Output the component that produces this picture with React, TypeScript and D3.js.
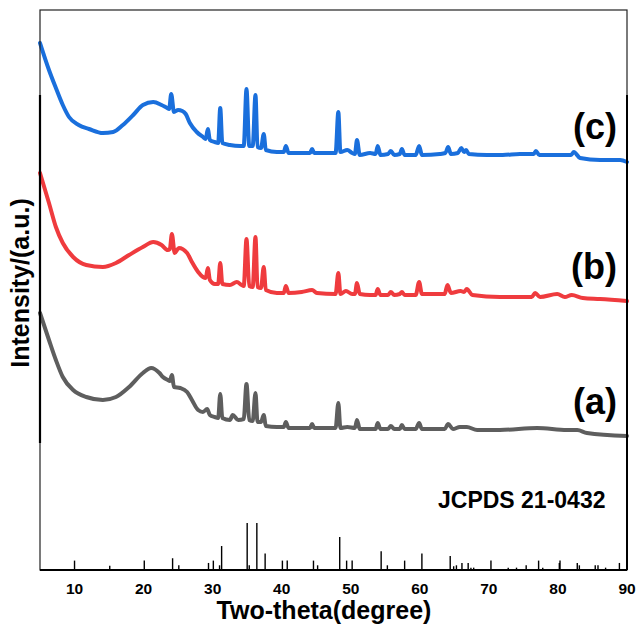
import React from "react";
import * as d3 from "d3";

// 2θ (degree) and intensity (a.u.)
const curveC: [number, number][] = [
  [5.0, 527], [6.3, 500], [7.3, 482], [8.3, 465], [9.2, 453], [10.6, 445], [12.1, 441], [14.1, 437],
  [15.6, 438], [17.0, 445], [18.5, 455], [19.9, 465], [21.4, 468], [22.6, 465], [23.4, 462],
  [23.7, 461], [24.0, 476], [24.4, 458], [25.0, 460], [25.6, 459], [26.1, 456], [26.7, 447], [27.7, 438],
  [28.6, 433], [29.0, 431], [29.3, 441], [29.6, 430], [30.3, 428], [30.8, 427], [31.1, 462], [31.4, 427],
  [32.5, 425], [34.0, 424], [34.5, 424], [34.9, 481], [35.3, 424], [35.8, 424], [36.2, 475], [36.5, 423],
  [37.0, 422], [37.4, 436], [37.7, 420], [39.3, 418], [40.3, 418], [40.6, 424], [41.0, 417], [43.1, 417],
  [44.1, 417], [44.4, 421], [44.7, 417], [47.3, 417], [47.8, 417], [48.2, 458], [48.5, 418], [49.5, 420],
  [50.2, 417], [50.6, 416], [50.9, 430], [51.3, 415], [52.8, 417], [53.6, 416], [53.9, 424], [54.3, 415],
  [55.4, 416], [55.8, 419], [56.3, 415], [57.1, 416], [57.4, 421], [57.8, 415], [59.4, 415], [59.9, 424],
  [60.3, 415], [62.9, 416], [63.7, 417], [64.1, 423], [64.5, 416], [65.5, 417], [66.0, 422], [66.4, 418],
  [66.7, 420], [67.1, 416], [69.7, 415], [72.0, 415], [74.5, 416], [76.5, 416], [76.8, 419], [77.3, 415],
  [79.9, 415], [81.9, 415], [82.3, 418], [83.2, 412], [86.1, 410], [89.0, 410], [90.0, 408],
];

const curveB: [number, number][] = [
  [5.0, 397], [6.3, 367], [7.3, 343], [8.3, 327], [9.8, 313], [11.7, 305], [14.1, 303], [16.0, 307],
  [17.9, 315], [19.9, 323], [21.4, 328], [22.6, 325],
  [23.5, 320], [23.8, 321], [24.1, 336], [24.5, 317], [25.1, 322], [26.3, 317], [27.0, 308], [27.9, 298],
  [28.6, 293], [29.0, 292], [29.3, 302], [29.6, 290], [30.3, 286], [30.8, 286], [31.1, 307], [31.4, 286],
  [32.5, 285], [33.5, 288], [34.2, 285], [34.5, 284], [34.9, 331], [35.3, 284], [35.8, 283], [36.2, 333],
  [36.5, 283], [37.0, 282], [37.4, 303], [37.7, 280], [39.3, 277], [40.3, 277], [40.6, 284], [41.0, 277],
  [42.9, 278], [44.4, 280], [45.1, 277], [47.8, 276], [48.2, 297], [48.5, 276], [49.3, 279], [50.2, 276],
  [50.6, 276], [50.9, 287], [51.3, 276], [52.8, 275], [53.6, 275], [53.9, 281], [54.3, 275], [55.4, 275],
  [55.8, 278], [56.3, 275], [57.1, 276], [57.4, 278], [57.8, 275], [59.4, 275], [59.9, 288], [60.3, 276],
  [63.6, 276], [64.0, 285], [64.5, 277], [65.9, 279], [66.4, 278], [66.8, 281], [67.6, 275], [71.6, 273],
  [76.2, 273], [76.7, 277], [77.4, 273], [79.9, 276], [81.0, 273], [82.0, 275], [83.6, 272], [86.1, 271],
  [90.0, 269],
];

const curveA: [number, number][] = [
  [5.0, 257], [6.3, 230], [7.3, 210], [8.3, 193], [9.8, 180], [11.7, 173], [14.1, 170], [16.0, 173],
  [17.9, 183], [19.9, 197], [21.1, 202], [22.3, 197], [22.8, 193], [23.5, 190], [23.8, 189],
  [24.1, 195], [24.4, 183], [25.3, 182], [26.3, 178], [27.0, 170], [27.9, 160], [28.6, 158], [29.2, 161],
  [29.6, 155], [30.3, 153], [30.8, 152], [31.1, 176], [31.4, 152], [32.5, 150], [32.9, 155], [33.7, 150],
  [34.5, 151], [34.9, 186], [35.3, 150], [35.8, 149], [36.2, 177], [36.5, 148], [37.0, 148], [37.4, 155],
  [37.7, 144], [39.3, 143], [40.3, 143], [40.6, 148], [41.0, 142], [43.1, 142], [44.1, 142], [44.4, 146],
  [44.7, 142], [47.8, 142], [48.2, 167], [48.5, 142], [49.5, 143], [50.6, 142], [50.9, 150], [51.3, 141],
  [53.6, 141], [53.9, 147], [54.3, 141], [55.4, 141], [55.8, 144], [56.3, 141], [57.1, 141], [57.4, 145],
  [57.8, 141], [59.4, 141], [59.9, 147], [60.3, 141], [63.6, 141], [64.1, 146], [64.8, 141], [65.8, 143],
  [66.8, 143], [68.3, 140], [71.6, 140], [77.0, 142], [81.3, 140], [82.8, 140], [84.2, 137], [90.0, 134],
];

// JCPDS 21-0432 reference lines: [2θ, relative intensity]
const refLines: [number, number][] = [
  [10.0, 20], [15.1, 9], [20.1, 20], [24.2, 25], [25.1, 10], [29.4, 15], [30.1, 20], [31.0, 10], [31.3, 51],
  [35.0, 100], [35.3, 10], [36.4, 100], [37.6, 35], [40.1, 20], [40.8, 20], [44.6, 20], [45.2, 10],
  [48.4, 70], [49.4, 20], [50.2, 20], [54.4, 40], [55.3, 10], [57.8, 20], [60.3, 35], [64.4, 30],
  [64.9, 8], [65.3, 10], [66.1, 15], [67.0, 15], [67.4, 5], [67.8, 5], [70.3, 20], [72.8, 5], [74.0, 5],
  [75.4, 10], [77.2, 20], [77.8, 5], [80.2, 15], [80.3, 20], [82.8, 15], [83.1, 10], [85.4, 10],
  [85.8, 10], [86.9, 5], [88.9, 15],
];

const xTicks = [10, 20, 30, 40, 50, 60, 70, 80, 90];
const series = [
  { name: "(a)", data: curveA, color: "#5e5e5e" },
  { name: "(b)", data: curveB, color: "#ef3b3e" },
  { name: "(c)", data: curveC, color: "#1a6fdc" },
];
const labelBaselines: Record<string, number> = { "(a)": 414, "(b)": 279, "(c)": 139 };

const W = 638;
const H = 626;
const L = 40, R = 627, T = 10, B = 570;
const FONT = "'Liberation Sans', Arial, sans-serif";

export default function App() {
  const x = d3.scaleLinear().domain([5, 90]).range([L, R]);
  const y = d3.scaleLinear().domain([0, 560]).range([B, T]);
  const yRef = d3.scaleLinear().domain([0, 100]).range([B, B - 47]);
  const line = d3
    .line<[number, number]>()
    .x((d) => x(d[0]))
    .y((d) => y(d[1]))
    .curve(d3.curveMonotoneX);

  return (
    <svg
      width={W}
      height={H}
      style={{ position: "absolute", left: 0, top: 0, background: "#fff" }}
      fontFamily={FONT}
    >
      <rect x={0} y={0} width={W} height={H} fill="#fff" />
      {series.map((s) => (
        <path
          key={s.name}
          d={line(s.data) || ""}
          fill="none"
          stroke={s.color}
          strokeWidth={4}
          strokeLinejoin="round"
          strokeLinecap="round"
        />
      ))}
      {refLines.map((r, i) => (
        <line
          key={i}
          x1={x(r[0])}
          x2={x(r[0])}
          y1={yRef(0)}
          y2={yRef(r[1])}
          stroke="#000"
          strokeWidth={1.4}
        />
      ))}
      {/* frame */}
      <rect x={L} y={T} width={R - L} height={B - T} fill="none" stroke="#222" strokeWidth={1.2} />
      <line x1={L} x2={L} y1={95} y2={443} stroke="#000" strokeWidth={2.2} />
      <line x1={R} x2={R} y1={95} y2={B} stroke="#000" strokeWidth={2} />
      <line x1={L} x2={R} y1={B} y2={B} stroke="#000" strokeWidth={1.8} />
      {xTicks.map((t) => (
        <text
          key={t}
          x={x(t)}
          y={594}
          textAnchor="middle"
          fontSize={15.5}
          fontWeight="bold"
          fill="#000"
        >
          {t}
        </text>
      ))}
      <text x={324} y={619} textAnchor="middle" fontSize={25} fontWeight="bold" fill="#000">
        Two-theta(degree)
      </text>
      <text
        transform="translate(29,283) rotate(-90)"
        textAnchor="middle"
        fontSize={25}
        fontWeight="bold"
        fill="#000"
      >
        Intensity/(a.u.)
      </text>
      {series.map((s) => (
        <text
          key={s.name}
          x={617}
          y={labelBaselines[s.name]}
          textAnchor="end"
          fontSize={36}
          fontWeight="bold"
          fill="#000"
        >
          {s.name}
        </text>
      ))}
      <text x={438} y={508} fontSize={23} fontWeight="bold" fill="#000">
        JCPDS 21-0432
      </text>
    </svg>
  );
}
